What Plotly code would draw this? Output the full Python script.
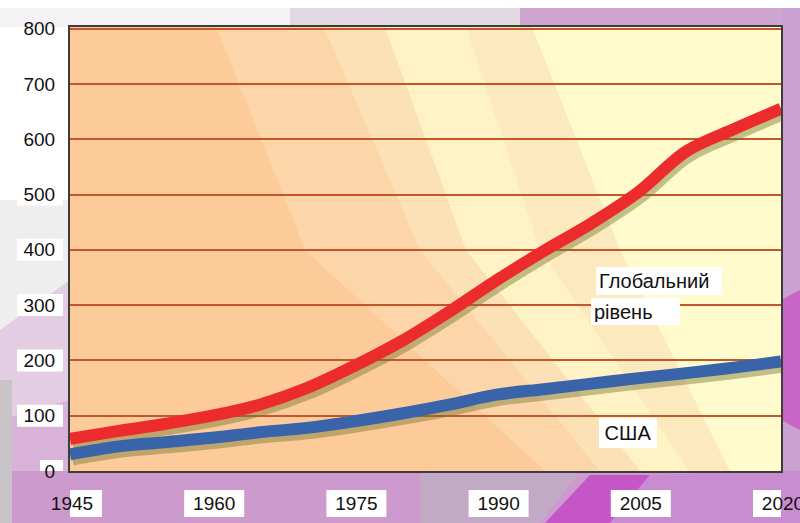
import plotly.graph_objects as go

# ---------------- data ----------------
years = [1945, 1950, 1955, 1960, 1965, 1970, 1975, 1980,
         1985, 1990, 1995, 2000, 2005, 2010, 2015, 2020]
global_level = [58, 72, 85, 100, 120, 150, 190, 235,
                288, 345, 398, 448, 505, 578, 618, 655]
usa_level = [30, 44, 52, 60, 70, 78, 90, 104,
             120, 138, 148, 158, 168, 177, 187, 198]
x_tick_vals = [1945, 1960, 1975, 1990, 2005, 2020]
y_tick_vals = [0, 100, 200, 300, 400, 500, 600, 700, 800]
label_global = ["Глобальний", "рівень"]
label_usa = "США"

# ---------------- layout geometry ----------------
W, H = 800, 523
L, R, T, B = 70, 781, 27, 471
FONT = "Liberation Sans, Arial, sans-serif"


def px(x):
    return (x - L) / (R - L)


def py(y):
    return (B - y) / (B - T)


def poly(points, color):
    path = "M " + " L ".join(f"{px(x):.4f},{py(y):.4f}" for x, y in points) + " Z"
    return dict(type="path", path=path, xref="paper", yref="paper",
                fillcolor=color, line=dict(width=0), layer="below")


shapes = []
# outer decoration
shapes.append(poly([(0, 8), (800, 8), (800, 27), (0, 27)], "#f4f2f4"))
shapes.append(poly([(290, 8), (800, 8), (800, 27), (290, 27)], "#e2d8e2"))
shapes.append(poly([(520, 8), (800, 8), (800, 27), (520, 27)], "#cfa6d2"))
shapes.append(poly([(781, 8), (800, 8), (800, 523), (781, 523)], "#c9a2d2"))
shapes.append(poly([(781, 300), (800, 290), (800, 430), (781, 420)], "#c866c8"))
shapes.append(poly([(0, 200), (70, 200), (70, 471), (0, 471)], "#eeeeee"))
shapes.append(poly([(0, 330), (70, 280), (70, 471), (0, 471)], "#e2cde2"))
shapes.append(poly([(0, 420), (70, 400), (70, 471), (0, 471)], "#d8b2d8"))
shapes.append(poly([(0, 471), (800, 471), (800, 523), (0, 523)], "#cc9acc"))
shapes.append(poly([(0, 380), (12, 380), (12, 523), (0, 523)], "#c8c4c8"))
shapes.append(poly([(420, 471), (580, 471), (540, 523), (420, 523)], "#c2aac6"))
shapes.append(poly([(590, 475), (650, 475), (610, 523), (545, 523)], "#c456c8"))
shapes.append(poly([(650, 475), (781, 471), (800, 471), (800, 523), (610, 523)], "#c98cd0"))

# plot-area background bands
shapes.append(poly([(L, T), (R, T), (R, B), (L, B)], "#fccb99"))
shapes.append(poly([(216, T), (R, T), (R, B), (545, B), (305, 250)], "#fcd5a9"))
shapes.append(poly([(324, T), (R, T), (R, B), (600, B), (420, 250)], "#fde1b6"))
shapes.append(poly([(385, T), (R, T), (R, B), (640, B), (466, 250)], "#fff2c4"))
shapes.append(poly([(466, T), (R, T), (R, B), (690, B), (540, 250)], "#fde9be"))
shapes.append(poly([(532, T), (R, T), (R, B), (730, B), (620, 250)], "#fffbcc"))

# white boxes behind tick labels
for v in y_tick_vals:
    x0 = 40 if v == 0 else 17
    shapes.append(dict(type="rect", xref="paper", x0=px(x0), x1=px(63),
                       yref="y", ysizemode="pixel", yanchor=v, y0=-11, y1=11,
                       fillcolor="white", line=dict(width=0), layer="below"))
for v in x_tick_vals:
    shapes.append(dict(type="rect", yref="paper", y0=py(517), y1=py(490),
                       xref="x", xsizemode="pixel", xanchor=v, x0=-28, x1=32,
                       fillcolor="white", line=dict(width=0), layer="below"))

fig = go.Figure()

# soft shadows under the lines
for vals in (global_level, usa_level):
    fig.add_trace(go.Scatter(
        x=[y + 0.3 for y in years], y=[v - 11 for v in vals],
        mode="lines", line=dict(color="rgba(120,120,50,0.45)", width=10, shape="spline"),
        hoverinfo="skip", showlegend=False))

fig.add_trace(go.Scatter(x=years, y=global_level, mode="lines", name="Глобальний рівень",
                         line=dict(color="#ec2c2c", width=12, shape="spline"),
                         showlegend=False))
fig.add_trace(go.Scatter(x=years, y=usa_level, mode="lines", name="США",
                         line=dict(color="#3a64aa", width=12, shape="spline"),
                         showlegend=False))

annotations = [
    dict(text=label_global[0], xref="paper", yref="paper", x=px(596), y=py(267),
         xanchor="left", yanchor="top", showarrow=False, align="left",
         width=120, height=22, borderpad=3, borderwidth=0, bgcolor="white",
         font=dict(family=FONT, size=20, color="#111111")),
    dict(text=label_global[1], xref="paper", yref="paper", x=px(591), y=py(298),
         xanchor="left", yanchor="top", showarrow=False, align="left",
         width=83, height=21, borderpad=3, borderwidth=0, bgcolor="white",
         font=dict(family=FONT, size=20, color="#111111")),
    dict(text=label_usa, xref="paper", yref="paper", x=px(599), y=py(418),
         xanchor="left", yanchor="top", showarrow=False, align="center",
         width=52, height=24, borderpad=3, borderwidth=0, bgcolor="white",
         font=dict(family=FONT, size=20, color="#111111")),
]

fig.update_layout(
    width=W, height=H, autosize=False,
    margin=dict(l=L, r=W - R, t=T, b=H - B, pad=0, autoexpand=False),
    paper_bgcolor="white", plot_bgcolor="rgba(0,0,0,0)",
    shapes=shapes, annotations=annotations,
    showlegend=False, hovermode=False,
    font=dict(family=FONT, size=19, color="#111111"),
)
fig.update_xaxes(range=[1945, 2020], tickvals=x_tick_vals,
                 ticktext=[str(v) for v in x_tick_vals],
                 showgrid=False, zeroline=False, automargin=False,
                 showline=True, mirror=True, linecolor="#3c3c3c", linewidth=2,
                 ticks="outside", ticklen=14, tickcolor="rgba(0,0,0,0)",
                 ticklabelshift=2, ticklabeloverflow="allow",
                 tickfont=dict(family=FONT, size=19, color="#111111"))
fig.update_yaxes(range=[0, 803], tickvals=y_tick_vals,
                 showgrid=True, gridcolor="#c4562a", gridwidth=2, zeroline=False,
                 automargin=False,
                 showline=True, mirror=True, linecolor="#3c3c3c", linewidth=2,
                 ticks="outside", ticklen=9, tickcolor="rgba(0,0,0,0)",
                 tickfont=dict(family=FONT, size=19, color="#111111"))

fig.write_html("out.html")
